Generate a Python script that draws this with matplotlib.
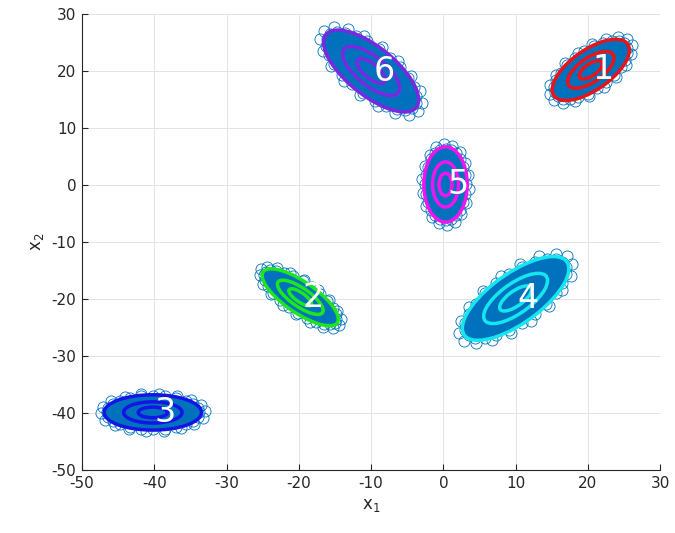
import matplotlib
matplotlib.use('Agg')
import matplotlib.pyplot as plt
from matplotlib.patches import Ellipse
from matplotlib.transforms import Affine2D
import numpy as np

plt.rcParams['axes.unicode_minus'] = False

# six gaussian clusters: centre and the shape matrix of the outer density contour
labels = ['1', '2', '3', '4', '5', '6']
center_x = [20.4, -19.8, -40.2, 10.0, 0.3, -10.0]
center_y = [20.2, -19.7, -39.9, -19.9, 0.1, 20.0]
shape_xx = [28.5, 27.8, 45.4, 54.3, 9.0, 43.3]
shape_yy = [28.8, 25.0, 9.6, 54.0, 43.6, 51.7]
shape_xy = [18.5, -20.2, 0.0, 38.4, 0.0, -33.1]
contour_colors = ['#e8141a', '#1ee61e', '#1414e6', '#14e6f0', '#f014f0', '#7a28e0']

# relative size of the three density contours
levels = [1.0, 0.6, 0.3]

# rings of sample markers around each cloud: (scale, count, phase)
rings = [(0.95, 24, 0.0), (1.07, 18, 0.4)]

point_color = '#0072BD'


def ellipseAxes(sxx, syy, sxy):
	vals, vecs = np.linalg.eigh(np.array([[sxx, sxy], [sxy, syy]]))
	a = np.sqrt(vals[1])
	b = np.sqrt(vals[0])
	ang = np.degrees(np.arctan2(vecs[1, 1], vecs[0, 1]))
	return a, b, ang


def ellipsePoints(cx, cy, a, b, ang, n, phase):
	t = np.linspace(0, 2 * np.pi, n, endpoint=False) + phase
	unit = np.column_stack([np.cos(t), np.sin(t)])
	tr = Affine2D().scale(a, b).rotate_deg(ang).translate(cx, cy)
	return tr.transform(unit)


def main():
	fig = plt.figure(figsize=(6.75, 5.33), dpi=100)
	ax = fig.add_axes([0.1215, 0.1182, 0.8565, 0.8555])

	for i in range(len(labels)):
		cx, cy = center_x[i], center_y[i]
		a, b, ang = ellipseAxes(shape_xx[i], shape_yy[i], shape_xy[i])

		# dense core of the sample cloud
		ax.add_patch(Ellipse((cx, cy), 2 * a * 0.98, 2 * b * 0.98, angle=ang,
			facecolor=point_color, edgecolor='none', zorder=2))
		for scale, n, phase in rings:
			pts = ellipsePoints(cx, cy, a * scale, b * scale, ang, n, phase)
			ax.plot(pts[:, 0], pts[:, 1], 'o', ms=8, mfc='none', mec=point_color,
				mew=0.6, zorder=2)

		for lv in levels:
			ax.add_patch(Ellipse((cx, cy), 2 * a * lv, 2 * b * lv, angle=ang,
				facecolor='none', edgecolor=contour_colors[i], lw=2.5, zorder=3))

		ax.annotate(labels[i], (cx, cy), xytext=(1.5, 0), textcoords='offset points',
			ha='left', va='center', color='white', fontsize=24, zorder=4)

	ax.set_xlim(-50, 30)
	ax.set_ylim(-50, 30)
	ax.set_xticks(range(-50, 31, 10))
	ax.set_yticks(range(-50, 31, 10))
	ax.grid(True, color='#e3e3e3', lw=0.7)
	ax.set_axisbelow(True)
	for s in ['top', 'right']:
		ax.spines[s].set_visible(False)
	for s in ['left', 'bottom']:
		ax.spines[s].set_color('#262626')
		ax.spines[s].set_linewidth(0.8)
	ax.tick_params(direction='in', length=4, width=0.8, color='#262626',
		labelcolor='#262626', labelsize=11, pad=4)

	ax.set_xlabel('x$_1$', fontsize=12, color='#262626', labelpad=4)
	ax.set_ylabel('x$_2$', fontsize=12, color='#262626', labelpad=4)

	fig.savefig('out.png', dpi=100)


if __name__ == "__main__":
	main()
